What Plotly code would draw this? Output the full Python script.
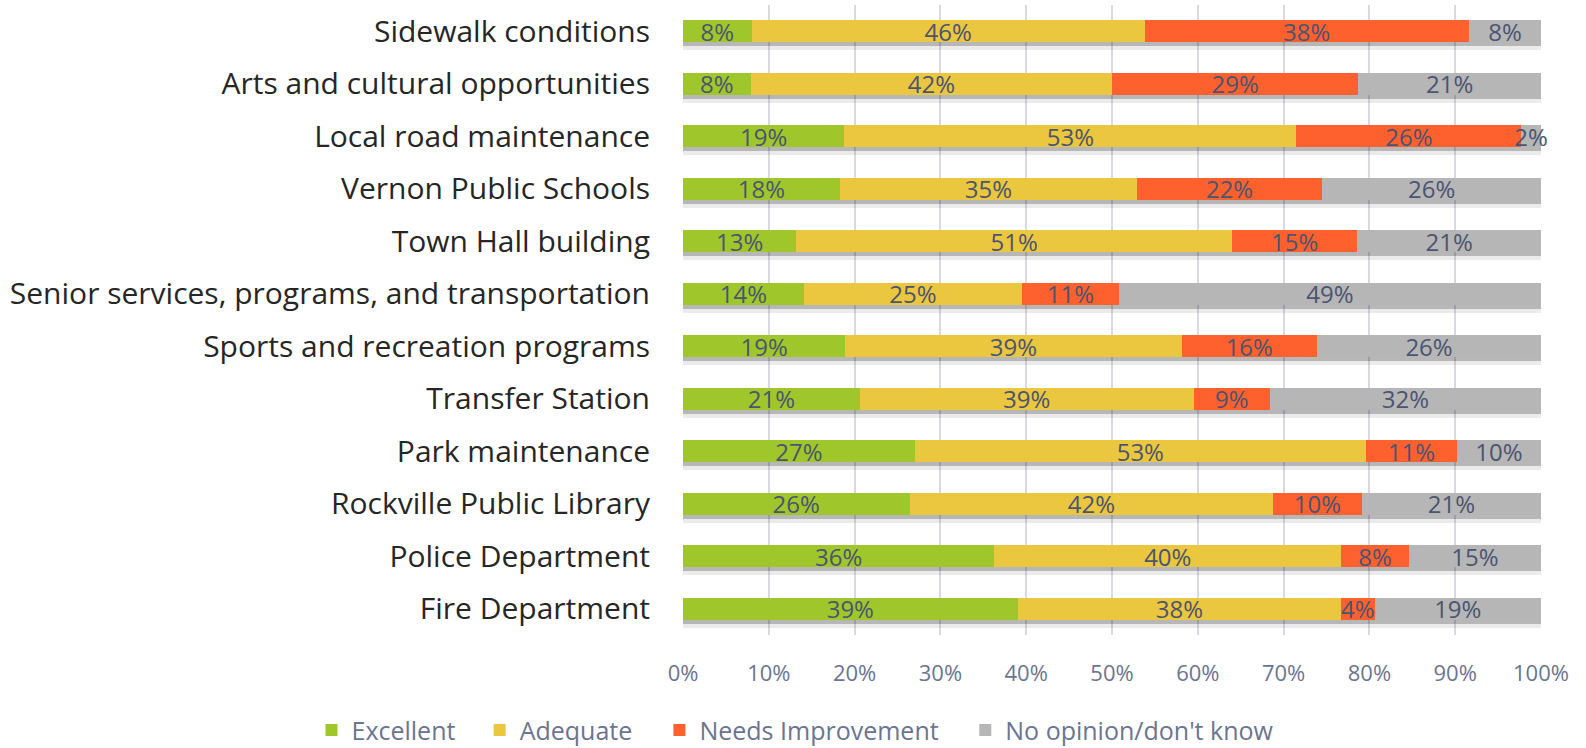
import plotly.graph_objects as go

categories = [
    "Sidewalk conditions",
    "Arts and cultural opportunities",
    "Local road maintenance",
    "Vernon Public Schools",
    "Town Hall building",
    "Senior services, programs, and transportation",
    "Sports and recreation programs",
    "Transfer Station",
    "Park maintenance",
    "Rockville Public Library",
    "Police Department",
    "Fire Department",
]
excellent = [8.0, 7.9, 18.8, 18.3, 13.2, 14.1, 18.9, 20.6, 27.0, 26.4, 36.3, 39.0]
adequate = [45.8, 42.1, 52.7, 34.6, 50.8, 25.4, 39.2, 38.9, 52.6, 42.4, 40.4, 37.7]
needs_improvement = [37.8, 28.7, 26.2, 21.6, 14.6, 11.3, 15.8, 8.9, 10.6, 10.3, 7.9, 3.9]
no_opinion = [8.4, 21.3, 2.3, 25.5, 21.4, 49.2, 26.1, 31.6, 9.8, 20.9, 15.4, 19.4]

series_names = ["Excellent", "Adequate", "Needs Improvement", "No opinion/don't know"]
series_values = [excellent, adequate, needs_improvement, no_opinion]
colors = ["#9FC72B", "#EBC63F", "#FF612E", "#B6B6B6"]
x_ticks = [0, 10, 20, 30, 40, 50, 60, 70, 80, 90, 100]

totals = [sum(v) for v in zip(*series_values)]
n = len(categories)

FONT = "Open Sans"
fig = go.Figure()

# soft drop shadow under each bar (far, light) on base axis y
fig.add_trace(go.Bar(
    y=categories, x=totals, orientation="h", yaxis="y",
    marker=dict(color="rgba(0,0,0,0.08)", line=dict(width=0)),
    showlegend=False, hoverinfo="skip",
))
# nearer, darker shadow on y2
fig.add_trace(go.Bar(
    y=categories, x=totals, orientation="h", yaxis="y2",
    marker=dict(color="rgba(0,0,0,0.22)", line=dict(width=0)),
    showlegend=False, hoverinfo="skip",
))

legend_ids = ["legend", "legend2", "legend3", "legend4"]
for name, vals, col, lg in zip(series_names, series_values, colors, legend_ids):
    fig.add_trace(go.Bar(
        y=categories, x=vals, orientation="h", name=name, yaxis="y3",
        legend=lg, cliponaxis=False,
        marker=dict(color=col, line=dict(width=0)),
        texttemplate="%{x:.0f}%", textposition="inside",
        insidetextanchor="middle", textangle=0,
        textfont=dict(family=FONT, size=24, color="#4B5470"),
    ))

bargap = 0.59
unit_px = 630 / n
far = 8 / unit_px
near = 4 / unit_px

common_y = dict(
    type="category", categoryorder="array", categoryarray=categories,
    showgrid=False, zeroline=False, automargin=False,
)

legend_style = dict(
    orientation="h", xref="paper", yref="paper",
    xanchor="left", y=-0.151, yanchor="middle",
    font=dict(family=FONT, size=25, color="#6B7491"),
    itemwidth=30, bgcolor="rgba(0,0,0,0)",
)
legend_x = [-0.433, -0.237, -0.0275, 0.329]

fig.update_layout(
    width=1586, height=748,
    margin=dict(l=683, r=45, t=5, b=113, autoexpand=False),
    paper_bgcolor="white", plot_bgcolor="white",
    barmode="stack", bargap=bargap,
    uniformtext=dict(minsize=24, mode="show"),
    font=dict(family=FONT),
    xaxis=dict(
        range=[0, 100], tickvals=x_ticks, ticktext=[f"{t}%" for t in x_ticks],
        showgrid=True, gridcolor="#D9D9E2", gridwidth=1.5,
        zeroline=False, showline=False, automargin=False,
        tickfont=dict(family=FONT, size=22, color="#6B7491"),
        ticklabelstandoff=23,
    ),
    yaxis=dict(range=[n - 0.5 - far, -0.5 - far], showticklabels=False, **common_y),
    yaxis2=dict(range=[n - 0.5 - near, -0.5 - near], overlaying="y", showticklabels=False, **common_y),
    yaxis3=dict(
        range=[n - 0.5, -0.5], overlaying="y", side="left",
        tickfont=dict(family=FONT, size=30, color="#262626"),
        ticklabelstandoff=32, **common_y,
    ),
    showlegend=True,
)
for lg, lx in zip(legend_ids, legend_x):
    fig.update_layout({lg: dict(x=lx, **legend_style)})

fig.write_html(
    "out.html",
    config={"displayModeBar": False},
    post_script="document.body.style.margin='0';document.body.style.overflow='hidden';",
)
